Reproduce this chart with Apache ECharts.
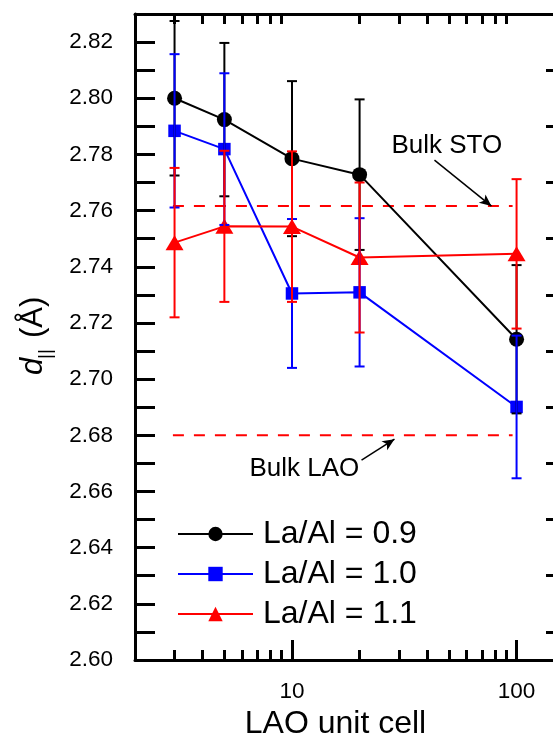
<!DOCTYPE html>
<html>
<head>
<meta charset="utf-8">
<script src="https://cdn.jsdelivr.net/npm/echarts@6/dist/echarts.min.js"></script>
<style>
  html, body { margin: 0; padding: 0; background: #fff; }
  #chart { width: 553px; height: 737px; }
</style>
</head>
<body>
<div id="chart"></div>
<script>
var myChart = echarts.init(document.getElementById('chart'));

// LAO thickness (unit cells)
var cells = [3, 5, 10, 20, 100];

// d_|| values and error bars for each La/Al ratio
var d09 = [2.8000, 2.7924, 2.7785, 2.7728, 2.7142];
var e09 = [0.0275, 0.0273, 0.0276, 0.0268, 0.0264];
var d10 = [2.7884, 2.7819, 2.7305, 2.7309, 2.6901];
var e10 = [0.0273, 0.0270, 0.0265, 0.0264, 0.0254];
var d11 = [2.7486, 2.7544, 2.7543, 2.7433, 2.7446];
var e11 = [0.0266, 0.0269, 0.0268, 0.0267, 0.0266];

// reference lines
var bulkSTO = 2.7616;
var bulkLAO = 2.6800;
var refRange = [2.95, 96];

// annotation text positions [x, y, text]
var notes = [[48.9, 2.783, 'Bulk STO'], [11.35, 2.668, 'Bulk LAO']];

// axis ticks
var xMajor = [10, 100];
var xMinor = [3, 4, 5, 6, 7, 8, 9, 20, 30, 40, 50, 60, 70, 80, 90];
var yTicks = [2.61, 2.62, 2.63, 2.64, 2.65, 2.66, 2.67, 2.68, 2.69, 2.70, 2.71,
              2.72, 2.73, 2.74, 2.75, 2.76, 2.77, 2.78, 2.79, 2.80, 2.81, 2.82];
var yTicksRight = [2.61, 2.63, 2.65, 2.67, 2.69, 2.71, 2.73, 2.75, 2.77, 2.79, 2.81];

var FONT = '"Liberation Sans", Arial, sans-serif';

function pairs(ys) {
    return cells.map(function (x, i) { return [x, ys[i]]; });
}
function bars(ys, es) {
    return cells.map(function (x, i) { return [x, ys[i] - es[i], ys[i] + es[i]]; });
}

// error bar with caps
function errorBar(color) {
    return function (params, api) {
        var x = api.value(0);
        var lo = api.coord([x, api.value(1)]);
        var hi = api.coord([x, api.value(2)]);
        var w = 5;
        var st = { stroke: color, lineWidth: 2 };
        return {
            type: 'group',
            children: [
                { type: 'line', shape: { x1: lo[0], y1: lo[1], x2: hi[0], y2: hi[1] }, style: st },
                { type: 'line', shape: { x1: lo[0] - w, y1: lo[1], x2: lo[0] + w, y2: lo[1] }, style: st },
                { type: 'line', shape: { x1: hi[0] - w, y1: hi[1], x2: hi[0] + w, y2: hi[1] }, style: st }
            ]
        };
    };
}

var axisLine = { show: true, onZero: false, lineStyle: { color: '#000', width: 3 } };

var option = {
    animation: false,
    backgroundColor: '#fff',
    grid: { left: 135, top: 14, right: -13, bottom: 77, outerBoundsMode: 'none' },
    legend: {
        data: ['La/Al = 0.9', 'La/Al = 1.0', 'La/Al = 1.1'],
        orient: 'vertical',
        left: 177,
        top: 518,
        padding: 0,
        itemWidth: 75,
        itemHeight: 18,
        itemGap: 8,
        textStyle: { fontSize: 32, lineHeight: 31, color: '#000', fontFamily: FONT, padding: [0, 0, 0, 5] }
    },
    xAxis: [{
        type: 'log', logBase: 10, min: 2, max: 166, position: 'bottom',
        axisLine: axisLine,
        axisTick: { inside: true, length: 20, customValues: xMajor, lineStyle: { width: 3, color: '#000' } },
        axisLabel: {
            fontSize: 22.5, margin: 20, color: '#000', fontFamily: FONT,
            formatter: function (v) {
                var l = Math.log10(v);
                return Math.abs(l - Math.round(l)) < 1e-6 ? String(Math.round(v)) : '';
            }
        },
        splitLine: { show: false },
        name: 'LAO unit cell', nameLocation: 'middle', nameGap: 46,
        nameTextStyle: { fontSize: 32, color: '#000', fontFamily: FONT, padding: [0, 30, 0, 0] }
    }, {
        type: 'log', logBase: 10, min: 2, max: 166, position: 'bottom',
        axisLine: { show: false },
        axisTick: { inside: true, length: 10, customValues: xMinor, lineStyle: { width: 3, color: '#000' } },
        axisLabel: { show: false },
        splitLine: { show: false }
    }, {
        type: 'log', logBase: 10, min: 2, max: 166, position: 'top',
        axisLine: axisLine,
        axisTick: { inside: true, length: 10, customValues: xMinor, lineStyle: { width: 3, color: '#000' } },
        axisLabel: { show: false },
        splitLine: { show: false }
    }],
    yAxis: [{
        type: 'value', min: 2.60, max: 2.83, interval: 0.01, position: 'left',
        axisLine: axisLine,
        axisTick: { inside: true, length: 20, customValues: yTicks, lineStyle: { width: 3, color: '#000' } },
        axisLabel: {
            fontSize: 22.5, margin: 22, color: '#000', fontFamily: FONT,
            formatter: function (v) {
                var n = Math.round(v * 100);
                return (n % 2 === 0 && n <= 282) ? v.toFixed(2) : '';
            }
        },
        splitLine: { show: false }
    }, {
        type: 'value', min: 2.60, max: 2.83, interval: 0.01, position: 'right',
        axisLine: axisLine,
        axisTick: { inside: true, length: 20, customValues: yTicksRight, lineStyle: { width: 3, color: '#000' } },
        axisLabel: { show: false },
        splitLine: { show: false }
    }],
    graphic: [{
        type: 'group',
        x: 48.5, y: 375,
        rotation: Math.PI / 2,
        children: [
            { type: 'text', x: 0, y: 0, style: { text: 'd', font: 'italic 31px ' + FONT, fill: '#000', align: 'left', verticalAlign: 'bottom' } },
            { type: 'text', x: 16, y: 6.8, style: { text: '||', font: '19px ' + FONT, fill: '#000', align: 'left', verticalAlign: 'bottom' } },
            { type: 'text', x: 37, y: 0, style: { text: '(Å)', font: '31px ' + FONT, fill: '#000', align: 'left', verticalAlign: 'bottom' } }
        ]
    }],
    series: [{
        name: 'Bulk STO', type: 'line', silent: true, symbol: 'none',
        data: [[refRange[0], bulkSTO], [refRange[1], bulkSTO]],
        lineStyle: { color: '#ff0000', width: 2, type: [11, 10] }
    }, {
        name: 'Bulk LAO', type: 'line', silent: true, symbol: 'none',
        data: [[refRange[0], bulkLAO], [refRange[1], bulkLAO]],
        lineStyle: { color: '#ff0000', width: 2, type: [11, 10] },
        markLine: {
            silent: true, symbol: ['none', 'arrow'], symbolSize: [8, 12],
            lineStyle: { color: '#000', width: 1.5, type: 'solid' },
            label: { show: false },
            data: [
                [{ coord: [43.1, 2.778] }, { coord: [77.3, 2.7616] }],
                [{ coord: [20.4, 2.6712] }, { coord: [28.6, 2.6786] }]
            ]
        }
    }, {
        name: 'notes', type: 'custom', silent: true,
        encode: { x: 0, y: 1 },
        data: notes,
        renderItem: function (params, api) {
            var p = api.coord([api.value(0), api.value(1)]);
            return {
                type: 'text', x: p[0], y: p[1],
                style: {
                    text: notes[params.dataIndex][2], fill: '#000',
                    font: '26px ' + FONT, align: 'center', verticalAlign: 'middle'
                }
            };
        }
    }, {
        name: 'La/Al = 0.9', type: 'line', data: pairs(d09),
        symbol: 'circle', symbolSize: 15,
        itemStyle: { color: '#000' }, lineStyle: { color: '#000', width: 2 }
    }, {
        name: 'La/Al = 1.0', type: 'line', data: pairs(d10),
        symbol: 'rect', symbolSize: 12.5,
        itemStyle: { color: '#0000ff' }, lineStyle: { color: '#0000ff', width: 2 }
    }, {
        name: 'La/Al = 1.1', type: 'line', data: pairs(d11),
        symbol: 'triangle', symbolSize: [18, 15],
        itemStyle: { color: '#ff0000' }, lineStyle: { color: '#ff0000', width: 2 }
    }, {
        type: 'custom', silent: true, z: 5, renderItem: errorBar('#000'),
        encode: { x: 0, y: [1, 2] }, data: bars(d09, e09)
    }, {
        type: 'custom', silent: true, z: 5, renderItem: errorBar('#0000ff'),
        encode: { x: 0, y: [1, 2] }, data: bars(d10, e10)
    }, {
        type: 'custom', silent: true, z: 5, renderItem: errorBar('#ff0000'),
        encode: { x: 0, y: [1, 2] }, data: bars(d11, e11)
    }]
};

myChart.setOption(option);
</script>
</body>
</html>
